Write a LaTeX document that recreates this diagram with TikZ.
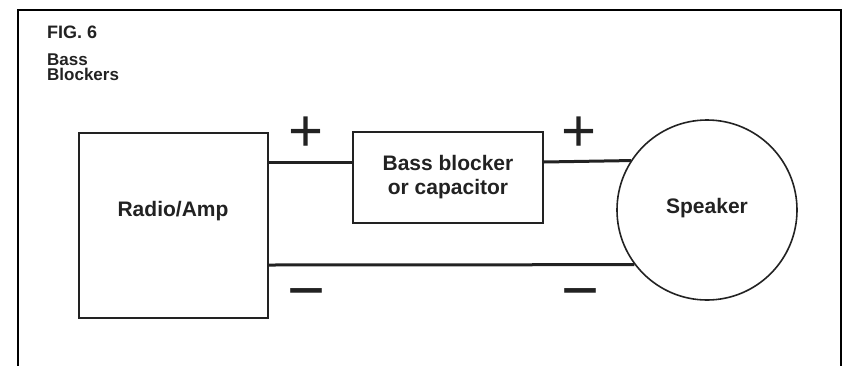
\documentclass[tikz,border=0pt]{standalone}
\usepackage{fontspec}
\setmainfont{Liberation Sans}
\definecolor{ink}{HTML}{222222}
\begin{document}
\begin{tikzpicture}[x=1pt,y=-1pt,
  blockbox/.style={draw=ink, line width=1.8pt, fill=white, inner sep=0pt, align=center, text=ink,
    font=\bfseries\fontsize{21}{24}\selectfont},
  blocklabel/.style={text=ink, inner sep=0pt, anchor=base, font=\bfseries\fontsize{21}{24}\selectfont},
  wire/.style={draw=ink, line width=3pt},
  polarity/.style={text=ink, inner sep=0pt, anchor=base},
  caption/.style={text=ink, inner sep=0pt, align=left, anchor=base west}]
\useasboundingbox (0,0) rectangle (844,365);
\draw[line width=2pt, black] (18,366) -- (18,10) -- (841,10) -- (841,366);
\node[caption, font=\bfseries\fontsize{18}{18}\selectfont] (fig) at (47,38) {FIG. 6};
\node[caption, font=\bfseries\fontsize{17}{15}\selectfont] (ttl) at (47,80) {Bass\\Blockers};
\node[blockbox, minimum width=189pt, minimum height=185pt] (amp) at (173.5,225.5) {};
\node[blocklabel] (ampl) at (173,216) {Radio/Amp};
\node[blockbox, minimum width=190pt, minimum height=91pt] (bb) at (448,177.5) {Bass blocker\\or capacitor};
\node[blockbox, circle, minimum size=180pt, line width=1.6pt] (spk) at (707,210) {};
\node[blocklabel] (spkl) at (707,213) {Speaker};
\draw[wire] (amp.east |- 0,162) -- (bb.west |- 0,162);
\draw[wire] (bb.east |- 0,162) -- (spk.147.8);
\draw[wire] (amp.east |- 0,265) -- (spk.217.7);
\node[polarity, font=\fontsize{60}{60}\selectfont] (p1) at (306,151.6) {+};
\node[polarity, font=\fontsize{60}{60}\selectfont] (p2) at (579,151.6) {+};
\node[polarity, font=\fontsize{65}{65}\selectfont] (m1) at (306,312.9) {−};
\node[polarity, font=\fontsize{65}{65}\selectfont] (m2) at (580,312.9) {−};
\end{tikzpicture}
\end{document}
